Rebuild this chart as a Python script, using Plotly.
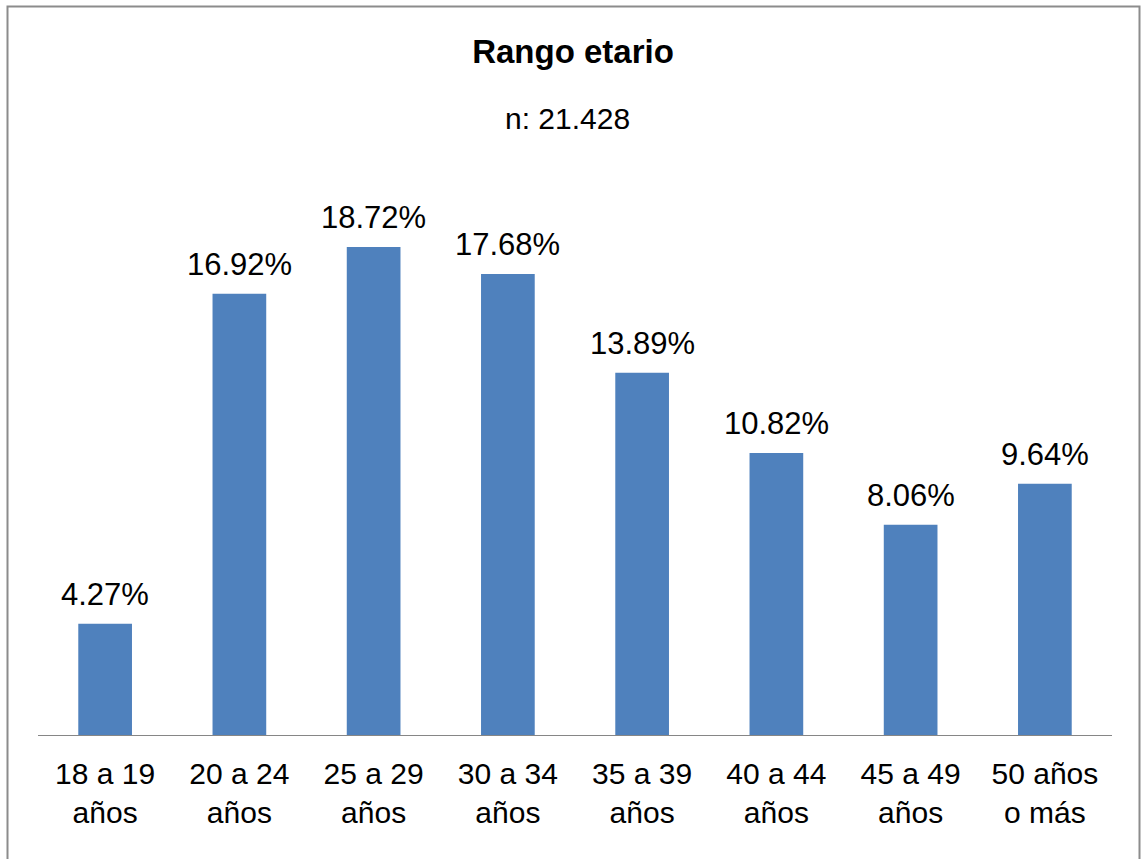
import plotly.graph_objects as go

# Age ranges and their share of respondents (%)
categories = ["18 a 19<br>años", "20 a 24<br>años", "25 a 29<br>años", "30 a 34<br>años",
              "35 a 39<br>años", "40 a 44<br>años", "45 a 49<br>años", "50 años<br>o más"]
values = [4.27, 16.92, 18.72, 17.68, 13.89, 10.82, 8.06, 9.64]
labels = [f"{v:.2f}%" for v in values]

W, H = 1142, 859
ML, MR, MT, MB = 38, 30, 170, 124
PW, PH = W - ML - MR, H - MT - MB
YMAX = 21.67

def px_x(px):
    return (px - ML) / PW

def px_y(py):
    return (H - MB - py) / PH

FONT = "Liberation Sans, Arial, sans-serif"

fig = go.Figure()
fig.add_trace(go.Bar(
    x=categories, y=values, width=0.4,
    marker=dict(color="#4F81BD", line=dict(width=0)),
    hoverinfo="skip",
))

# value labels above each bar
for c, v, t in zip(categories, values, labels):
    fig.add_annotation(x=c, y=v, text=t, showarrow=False, yanchor="bottom",
                       yshift=10, font=dict(family=FONT, size=31, color="#000000"))

# subtitle
fig.add_annotation(xref="paper", yref="paper", x=px_x(567), y=px_y(119), text="n: 21.428",
                   showarrow=False, xanchor="center", yanchor="middle",
                   font=dict(family=FONT, size=30, color="#000000"))

# chart frame
fig.add_shape(type="rect", xref="paper", yref="paper",
              x0=px_x(7.5), x1=px_x(1139.5), y0=px_y(880), y1=px_y(6.5),
              line=dict(color="#8C8C8C", width=2), fillcolor="rgba(0,0,0,0)")

fig.update_layout(
    width=W, height=H,
    margin=dict(l=ML, r=MR, t=MT, b=MB),
    paper_bgcolor="white", plot_bgcolor="white",
    showlegend=False,
    title=dict(text="<b>Rango etario</b>", x=573 / W, xanchor="center",
               y=1 - 51 / H, yanchor="middle",
               font=dict(family=FONT, size=33, color="#000000")),
    xaxis=dict(showline=True, linecolor="#868686", linewidth=1, ticks="",
               showgrid=False, zeroline=False, ticklabelstandoff=12,
               tickfont=dict(family=FONT, size=30, color="#000000")),
    yaxis=dict(range=[0, YMAX], visible=False, showgrid=False, zeroline=False),
)

fig.write_html("out.html")
